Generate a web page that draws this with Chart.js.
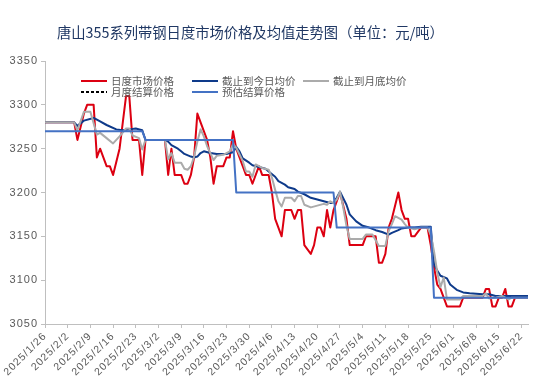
<!DOCTYPE html>
<html>
<head>
<meta charset="utf-8">
<script src="https://cdn.jsdelivr.net/npm/chart.js@4.4.1/dist/chart.umd.min.js"></script>
<style>
  html, body { margin: 0; padding: 0; background: #fff; }
  #wrap { width: 550px; height: 391px; }
</style>
</head>
<body>
<div id="wrap"><canvas id="chart" width="550" height="391"></canvas></div>
<script>
const chartTitle = '唐山355系列带钢日度市场价格及均值走势图（单位：元/吨）';
const seriesNames = ['日度市场价格', '截止到今日均价', '截止到月底均价', '月度结算价格', '预估结算价格'];
const xTickLabels = ['2025/1/26', '2025/2/2', '2025/2/9', '2025/2/16', '2025/2/23', '2025/3/2', '2025/3/9',
  '2025/3/16', '2025/3/23', '2025/3/30', '2025/4/6', '2025/4/13', '2025/4/20', '2025/4/27', '2025/5/4',
  '2025/5/11', '2025/5/18', '2025/5/25', '2025/6/1', '2025/6/8', '2025/6/15', '2025/6/22'];
const yTicks = [3050, 3100, 3150, 3200, 3250, 3300, 3350];
const firstDay = '2025/1/26';
const lastDay = '2025/6/24';

// 日度市场价格
const dailyDates = [
  '1/26', '2/4', '2/5', '2/7', '2/8', '2/10', '2/11', '2/12', '2/13', '2/14', '2/15', '2/16', '2/18', '2/19', '2/20', '2/21', '2/22', '2/24', '2/25', '2/26',
  '3/4', '3/5', '3/6', '3/7', '3/9', '3/10', '3/11', '3/12', '3/13', '3/14', '3/17', '3/18', '3/19', '3/20', '3/22', '3/23', '3/24', '3/25', '3/26', '3/28', '3/29', '3/30', '3/31',
  '4/2', '4/3', '4/5', '4/6', '4/7', '4/9', '4/10', '4/12', '4/13', '4/14', '4/15', '4/16', '4/18', '4/19', '4/20', '4/21', '4/22', '4/23', '4/24', '4/25', '4/27', '4/29', '4/30',
  '5/4', '5/5', '5/8', '5/9', '5/10', '5/11', '5/12', '5/13', '5/15', '5/16', '5/17', '5/18', '5/19', '5/20', '5/22', '5/24', '5/25', '5/26', '5/27', '5/28', '5/30',
  '6/3', '6/4', '6/10', '6/11', '6/12', '6/13', '6/14', '6/15', '6/16', '6/17', '6/18', '6/19', '6/20', '6/24'];
const dailyPrices = [
  3280, 3280, 3260, 3290, 3300, 3300, 3240, 3250, 3240, 3230, 3230, 3220, 3250, 3280, 3310, 3310, 3260, 3260, 3220, 3260,
  3260, 3220, 3250, 3220, 3220, 3210, 3210, 3220, 3240, 3290, 3260, 3240, 3210, 3230, 3230, 3240, 3240, 3270, 3250, 3230, 3220, 3220, 3210,
  3230, 3220, 3220, 3200, 3170, 3150, 3180, 3180, 3170, 3180, 3180, 3140, 3130, 3140, 3160, 3160, 3150, 3180, 3160, 3180, 3200, 3170, 3140,
  3140, 3150, 3150, 3120, 3120, 3130, 3160, 3170, 3200, 3180, 3170, 3170, 3150, 3150, 3160, 3160, 3140, 3115, 3095, 3090, 3070,
  3070, 3080, 3080, 3090, 3090, 3070, 3070, 3080, 3080, 3090, 3070, 3070, 3080, 3080];

// 截止到今日均价
const todayAvgDates = [
  '1/26', '2/4', '2/5', '2/7', '2/10', '2/12', '2/14', '2/17', '2/19', '2/21', '2/23', '2/25', '2/26',
  '3/4', '3/5', '3/6', '3/8', '3/9', '3/10', '3/12', '3/13', '3/14', '3/15', '3/16', '3/18', '3/20', '3/23', '3/24', '3/25', '3/26', '3/27', '3/28', '3/30', '3/31',
  '4/2', '4/4', '4/5', '4/7', '4/8', '4/10', '4/11', '4/13', '4/14', '4/16', '4/18', '4/20', '4/22', '4/24', '4/25', '4/26', '4/27', '4/29', '4/30',
  '5/2', '5/4', '5/6', '5/8', '5/10', '5/12', '5/13', '5/15', '5/16', '5/18', '5/20', '5/22', '5/25', '5/26', '5/27', '5/28', '5/30', '5/31',
  '6/2', '6/4', '6/6', '6/10', '6/12', '6/14', '6/24'];
const todayAvg = [
  3280, 3280, 3276, 3282, 3285, 3281, 3277, 3272, 3271, 3272, 3273, 3271, 3260,
  3260, 3258, 3254, 3250, 3247, 3244, 3241, 3240, 3241, 3245, 3247, 3245, 3244, 3244, 3245, 3246, 3252, 3247, 3239, 3234, 3231,
  3229, 3227, 3224, 3218, 3213, 3209, 3206, 3204, 3201, 3198, 3194, 3192, 3190, 3188, 3188, 3194, 3201, 3186, 3175,
  3167, 3162, 3160, 3157, 3155, 3152, 3154, 3157, 3159, 3160, 3160, 3161, 3161, 3118, 3111, 3105, 3102, 3095,
  3089, 3086, 3085, 3084, 3084, 3082, 3082];

// 截止到月底均价
const monthEndDates = [
  '1/26', '2/4', '2/5', '2/7', '2/9', '2/11', '2/12', '2/14', '2/16', '2/18', '2/20', '2/21', '2/22', '2/24', '2/25', '2/26',
  '3/4', '3/5', '3/6', '3/7', '3/9', '3/10', '3/11', '3/12', '3/13', '3/14', '3/15', '3/16', '3/17', '3/18', '3/19', '3/20', '3/22', '3/23', '3/24', '3/25', '3/26', '3/28', '3/29', '3/30', '3/31',
  '4/1', '4/2', '4/3', '4/5', '4/6', '4/7', '4/8', '4/9', '4/10', '4/12', '4/13', '4/14', '4/15', '4/16', '4/18', '4/20', '4/22', '4/23', '4/24', '4/25', '4/26', '4/27', '4/28', '4/29', '4/30',
  '5/4', '5/5', '5/7', '5/9', '5/11', '5/12', '5/13', '5/14', '5/16', '5/17', '5/18', '5/20', '5/22', '5/24', '5/25', '5/26', '5/27', '5/28', '5/29', '5/30',
  '6/3', '6/4', '6/10', '6/11', '6/12', '6/14', '6/16', '6/18', '6/19', '6/24'];
const monthEndAvg = [
  3280, 3280, 3271, 3292, 3292, 3266, 3268, 3262, 3256, 3264, 3273, 3273, 3265, 3262, 3249, 3260,
  3260, 3238, 3245, 3234, 3234, 3227, 3226, 3230, 3241, 3258, 3272, 3264, 3253, 3245, 3237, 3242, 3243, 3245, 3247, 3255, 3251, 3236, 3224, 3224, 3218,
  3232, 3230, 3228, 3226, 3217, 3203, 3190, 3184, 3194, 3194, 3190, 3196, 3196, 3186, 3183, 3185, 3187, 3186, 3190, 3188, 3192, 3201, 3183, 3162, 3147,
  3147, 3152, 3152, 3139, 3139, 3156, 3164, 3173, 3169, 3164, 3160, 3158, 3160, 3160, 3152, 3133, 3109, 3092, 3103, 3078,
  3078, 3082, 3082, 3085, 3079, 3080, 3082, 3078, 3080, 3080];

// 月度结算价格 (no visible points)
const settleDates = [];
const settlePrices = [];

// 预估结算价格
const estimateDates = ['1/26', '2/25', '2/26', '3/25', '3/26', '4/25', '4/26', '5/25', '5/26', '6/24'];
const estimatePrices = [3270, 3270, 3260, 3260, 3200, 3200, 3160, 3160, 3080, 3080];

function toUTC(s) {
  const p = s.split('/').map(Number);
  if (p.length === 2) p.unshift(2025);
  return Date.UTC(p[0], p[1] - 1, p[2]);
}
function dayOf(s) {
  return Math.round((toUTC(s) - toUTC(firstDay)) / 86400000);
}
function points(dates, values) {
  return dates.map((d, i) => ({ x: dayOf(d), y: values[i] }));
}

const tickDays = xTickLabels.map(dayOf);
const textGrey = '#595959';
const axisGrey = '#BFBFBF';

const lineStyle = { fill: false, tension: 0, pointRadius: 0, borderWidth: 2, borderJoinStyle: 'round' };

// Excel stacks later series on top: lower order = drawn last
const datasets = [
  Object.assign({ label: seriesNames[0], data: points(dailyDates, dailyPrices), borderColor: '#DC0011', order: 5 }, lineStyle),
  Object.assign({ label: seriesNames[1], data: points(todayAvgDates, todayAvg), borderColor: '#0E3A8A', order: 4 }, lineStyle),
  Object.assign({ label: seriesNames[2], data: points(monthEndDates, monthEndAvg), borderColor: '#ABABAB', order: 3 }, lineStyle),
  Object.assign({ label: seriesNames[3], data: points(settleDates, settlePrices), borderColor: '#000000', borderDash: [3, 2], order: 2 }, lineStyle),
  Object.assign({ label: seriesNames[4], data: points(estimateDates, estimatePrices), borderColor: '#4472C4', order: 1 }, lineStyle)
];

// wider letter spacing for the axis labels, like the original
const spacing = {
  id: 'spacing',
  beforeDraw(chart) { chart.ctx.letterSpacing = '1px'; }
};

// title and in-plot legend, laid out like the Excel original
const overlay = {
  id: 'overlay',
  afterDraw(chart) {
    const ctx = chart.ctx;
    ctx.save();
    ctx.letterSpacing = '0px';
    ctx.textBaseline = 'middle';
    ctx.textAlign = 'left';
    ctx.font = '14.3px "Noto Sans CJK SC"';
    ctx.fillStyle = '#203864';
    ctx.fillText(chartTitle, 57, 33);

    const slots = { '日度市场价格': [81, 81], '截止到今日均价': [192, 81], '截止到月底均价': [303, 81],
      '月度结算价格': [81, 92], '预估结算价格': [192, 92] };
    ctx.font = '10.5px "Noto Sans CJK SC"';
    chart.data.datasets.forEach(ds => {
      const pos = slots[ds.label];
      if (!pos) return;
      ctx.beginPath();
      ctx.setLineDash(ds.borderDash || []);
      ctx.strokeStyle = ds.borderColor;
      ctx.lineWidth = 2;
      ctx.moveTo(pos[0], pos[1]);
      ctx.lineTo(pos[0] + 26, pos[1]);
      ctx.stroke();
      ctx.setLineDash([]);
      ctx.fillStyle = textGrey;
      ctx.fillText(ds.label, pos[0] + 30, pos[1]);
    });
    ctx.restore();
    ctx.letterSpacing = '0px';
  }
};

new Chart(document.getElementById('chart'), {
  type: 'line',
  data: { datasets: datasets },
  plugins: [spacing, overlay],
  options: {
    responsive: false,
    animation: false,
    devicePixelRatio: 1,
    layout: { padding: { top: 61, right: 22, bottom: 0, left: 0 } },
    plugins: { legend: { display: false }, title: { display: false }, tooltip: { enabled: false } },
    scales: {
      x: {
        type: 'linear',
        min: 0,
        max: dayOf(lastDay),
        afterFit(scale) { scale.height = 67; },
        afterBuildTicks(scale) { scale.ticks = tickDays.map(v => ({ value: v })); },
        grid: { drawOnChartArea: false, drawTicks: true, tickLength: 4, color: axisGrey },
        border: { color: axisGrey, width: 1 },
        ticks: {
          autoSkip: false,
          minRotation: 45,
          maxRotation: 45,
          padding: 2,
          color: textGrey,
          font: { family: 'Liberation Sans', size: 10.5 },
          callback(v) { return xTickLabels[tickDays.indexOf(v)]; }
        }
      },
      y: {
        min: 3050,
        max: 3350,
        afterFit(scale) { scale.width = 45; },
        afterBuildTicks(scale) { scale.ticks = yTicks.map(v => ({ value: v })); },
        grid: { drawOnChartArea: false, drawTicks: true, tickLength: 4, color: axisGrey },
        border: { color: axisGrey, width: 1 },
        ticks: {
          padding: 3,
          color: textGrey,
          font: { family: 'Liberation Sans', size: 11 },
          callback(v) { return String(v); }
        }
      }
    }
  }
});
</script>
</body>
</html>
